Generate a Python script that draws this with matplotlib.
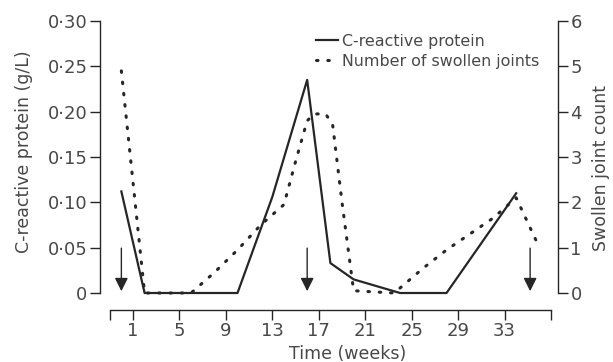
import numpy as np
import matplotlib
matplotlib.use("Agg")
import matplotlib.pyplot as plt

# C-reactive protein (g/L), solid line, left axis
crp_weeks = [0, 2, 10, 13, 16, 18, 20, 24, 28, 34]
crp_values = [0.112, 0.0, 0.0, 0.106, 0.235, 0.033, 0.015, 0.0, 0.0, 0.110]

# Number of swollen joints, dotted line, right axis
joint_weeks = [0, 2, 6, 8, 10, 12, 14, 15, 16, 16.6, 17.6, 18.2, 19.0, 20.0,
               23.5, 26, 28, 30, 32, 34, 36]
joint_values = [4.9, 0.0, 0.0, 0.45, 0.95, 1.5, 1.95, 2.9, 3.8, 3.95, 3.95,
                3.7, 2.0, 0.05, 0.0, 0.55, 0.95, 1.3, 1.65, 2.1, 1.0]

# treatment arrows
arrow_weeks = [0, 16, 35.2]

xtick_weeks = [-1, 1, 5, 9, 13, 17, 21, 25, 29, 33, 37]
xtick_labels = ["", "1", "5", "9", "13", "17", "21", "25", "29", "33", ""]
crp_ticks = [0, 0.05, 0.10, 0.15, 0.20, 0.25, 0.30]
crp_tick_labels = ["0", "0·05", "0·10", "0·15", "0·20", "0·25", "0·30"]
joint_ticks = [0, 1, 2, 3, 4, 5, 6]

LINE = "#262626"
TEXT = "#484848"

plt.rcParams["font.family"] = "DejaVu Sans"

fig = plt.figure(figsize=(6.13, 3.62), dpi=100)
ax = fig.add_axes([100 / 613, 69 / 362, 458 / 613, 272 / 362])
ax2 = ax.twinx()

ax.plot(crp_weeks, crp_values, color=LINE, lw=1.6, clip_on=False,
        label="C-reactive protein", zorder=3)
ax2.plot(joint_weeks, joint_values, color=LINE, lw=2.2, clip_on=False,
         linestyle=(0, (0.5, 3.2)), dash_capstyle="round",
         label="Number of swollen joints")

for w in arrow_weeks:
    ax.annotate("", xy=(w, 0.002), xytext=(w, 0.0495),
                arrowprops=dict(arrowstyle="-|>,head_length=0.8,head_width=0.4",
                                color=LINE, lw=1.0, shrinkA=0, shrinkB=0),
                annotation_clip=False)

ax.set_xlim(-1.84, 37.6)
ax.set_ylim(0, 0.30)
ax2.set_ylim(0, 6)

for s in ["top", "right"]:
    ax.spines[s].set_visible(False)
for s in ["top", "left", "bottom"]:
    ax2.spines[s].set_visible(False)
ax.spines["bottom"].set_position(("outward", 12))
ax.spines["bottom"].set_bounds(-1, 37)
for sp in [ax.spines["left"], ax.spines["bottom"], ax2.spines["right"]]:
    sp.set_color(LINE)
    sp.set_linewidth(1.0)

ax.set_xticks(xtick_weeks)
ax.set_xticklabels(xtick_labels)
ax.set_yticks(crp_ticks)
ax.set_yticklabels(crp_tick_labels)
ax2.set_yticks(joint_ticks)

ax.tick_params(axis="both", direction="out", length=7, width=1.0,
               color=LINE, labelcolor=TEXT, labelsize=13, pad=2)
ax2.tick_params(axis="y", direction="out", length=7, width=1.0,
                color=LINE, labelcolor=TEXT, labelsize=13, pad=2)

ax.set_xlabel("Time (weeks)", fontsize=12.5, color=TEXT)
ax.xaxis.set_label_coords(0.541, -0.19)
ax.set_ylabel("C-reactive protein (g/L)", fontsize=12.5, color=TEXT)
ax.yaxis.set_label_coords(-0.146, 0.52)
ax2.set_ylabel("Swollen joint count", fontsize=12.5, color=TEXT)
ax2.yaxis.set_label_coords(1.074, 0.46)

h1, l1 = ax.get_legend_handles_labels()
h2, l2 = ax2.get_legend_handles_labels()
leg = ax.legend(h1 + h2, l1 + l2, loc="upper left",
                bbox_to_anchor=(316 / 613, 328 / 362),
                bbox_transform=fig.transFigure, frameon=False,
                fontsize=11.4, handlelength=1.4, handletextpad=0.25,
                borderpad=0, borderaxespad=0, labelspacing=0.3)
for t in leg.get_texts():
    t.set_color(TEXT)

fig.savefig("out.png", dpi=100)
